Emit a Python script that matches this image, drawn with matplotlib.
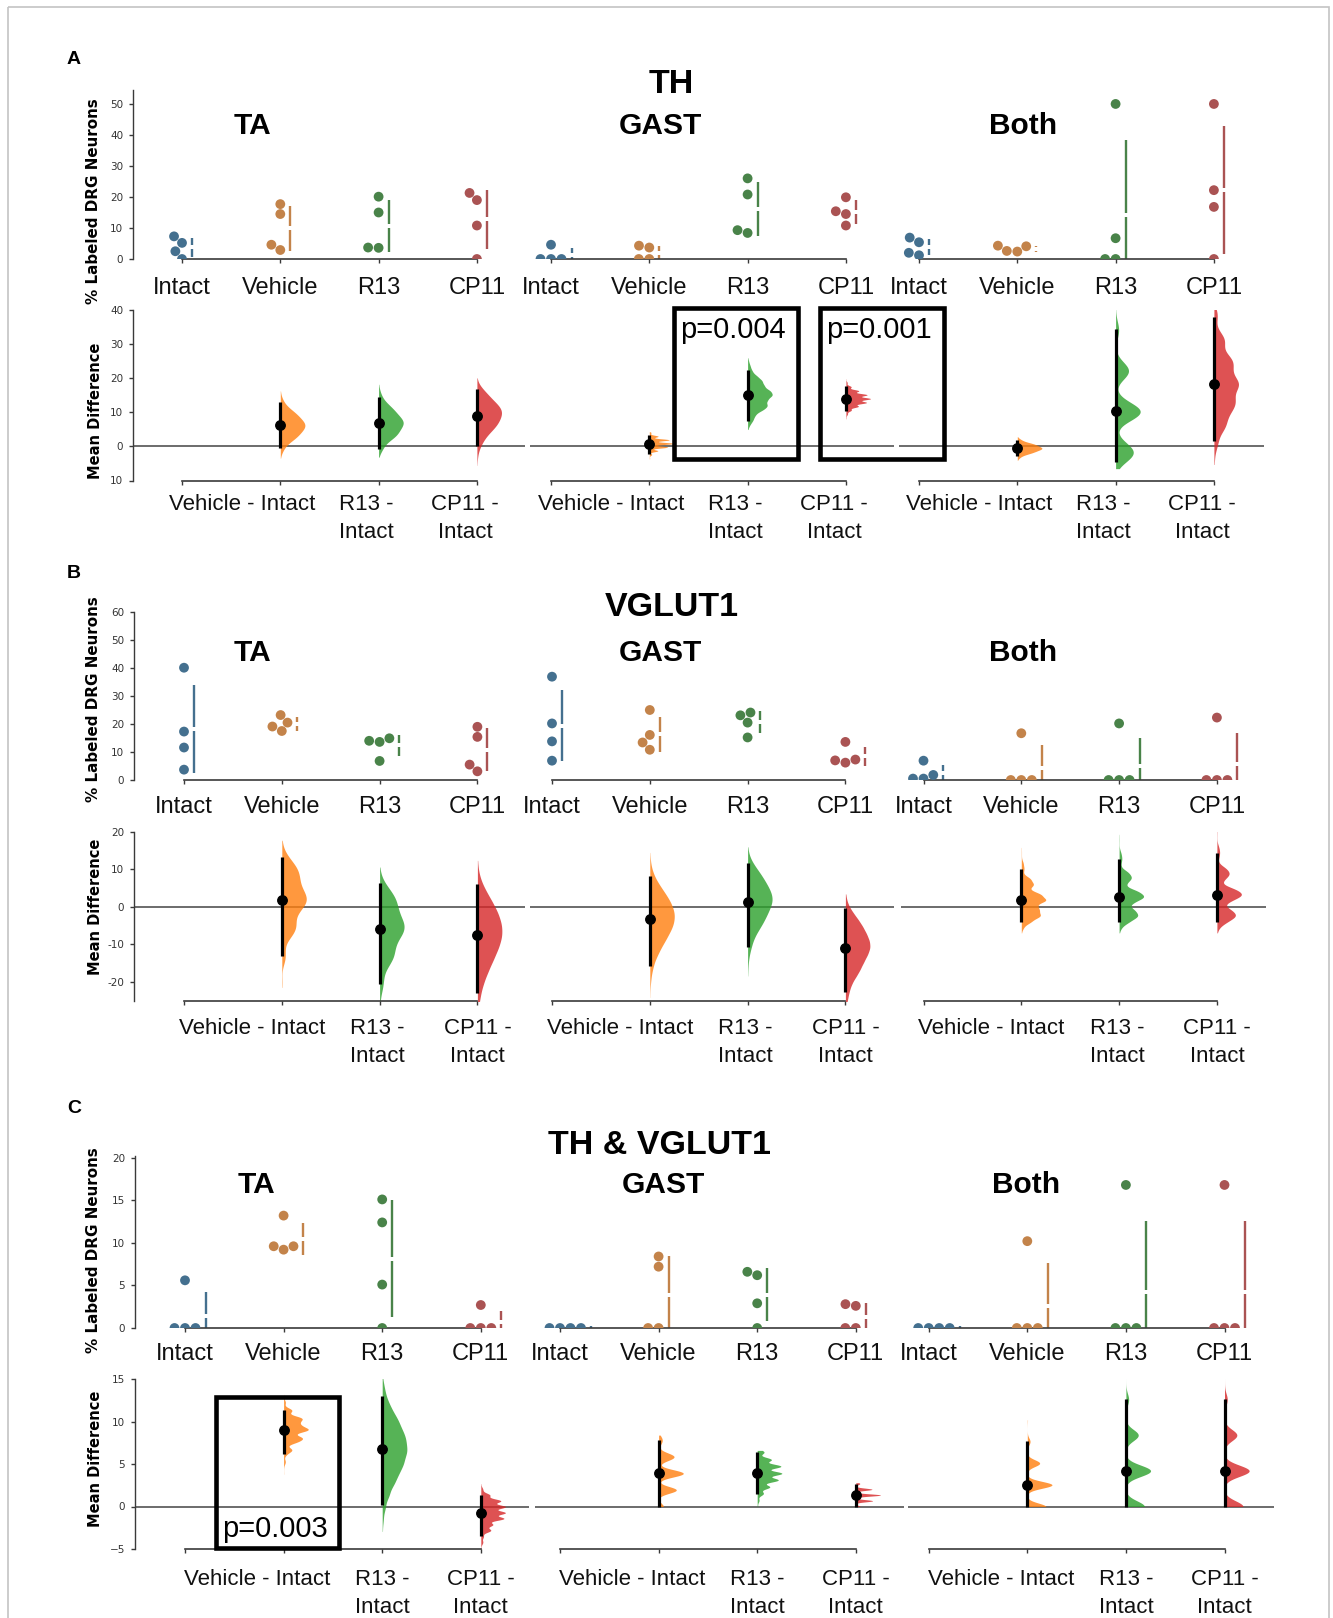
import itertools
import colorsys
import numpy as np
import matplotlib
matplotlib.use("Agg")
import matplotlib.pyplot as plt
import matplotlib.transforms as mtransforms
from matplotlib.patches import Rectangle
from matplotlib.colors import to_rgb

plt.rcParams["font.family"] = ["Liberation Sans", "DejaVu Sans"]

W, H, DPI = 1333, 1618, 100

# ---------------------------------------------------------------- data
groups = ["Intact", "Vehicle", "R13", "CP11"]
contrast_names = ["", "Vehicle - Intact", "R13 -\nIntact", "CP11 -\nIntact"]
muscles = ["TA", "GAST", "Both"]
markers = ["TH", "VGLUT1", "TH & VGLUT1"]
panel_letters = ["A", "B", "C"]

# % labeled DRG neurons; each list: [Intact, Vehicle, R13, CP11] (n = 4 each)
th_ta = [[7.3, 5.2, 2.5, 0.0], [17.7, 14.5, 4.6, 2.9], [20.1, 15.0, 3.7, 3.6], [21.3, 19.0, 10.8, 0.0]]
th_gast = [[4.6, 0.0, 0.0, 0.0], [4.3, 3.7, 0.0, 0.0], [26.0, 20.8, 9.3, 8.4], [19.9, 15.4, 14.5, 10.8]]
th_both = [[6.9, 5.4, 2.0, 1.2], [4.3, 2.6, 2.4, 4.1], [50.0, 6.7, 0.0, 0.0], [50.0, 22.2, 16.8, 0.0]]

vg_ta = [[40.1, 17.3, 11.6, 3.7], [23.2, 20.5, 19.1, 17.5], [14.9, 14.0, 13.6, 6.8], [19.0, 15.4, 5.5, 3.1]]
vg_gast = [[36.9, 20.2, 13.8, 6.9], [25.0, 16.1, 13.4, 10.8], [24.1, 23.1, 20.5, 15.2], [13.6, 7.3, 6.2, 7.0]]
vg_both = [[6.9, 1.8, 0.5, 0.5], [16.7, 0.0, 0.0, 0.0], [20.2, 0.0, 0.0, 0.0], [22.3, 0.0, 0.0, 0.0]]

co_ta = [[5.6, 0.0, 0.0, 0.0], [13.2, 9.6, 9.2, 9.6], [15.1, 12.4, 5.1, 0.0], [2.7, 0.0, 0.0, 0.0]]
co_gast = [[0.0, 0.0, 0.0, 0.0], [8.4, 7.2, 0.0, 0.0], [6.6, 6.2, 2.9, 0.0], [2.8, 2.6, 0.0, 0.0]]
co_both = [[0.0, 0.0, 0.0, 0.0], [10.2, 0.0, 0.0, 0.0], [16.8, 0.0, 0.0, 0.0], [16.8, 0.0, 0.0, 0.0]]

panel_data = [[th_ta, th_gast, th_both], [vg_ta, vg_gast, vg_both], [co_ta, co_gast, co_both]]

raw_yticks = [[0, 10, 20, 30, 40, 50], [0, 10, 20, 30, 40, 50, 60], [0, 5, 10, 15, 20]]
raw_ylims = [(0, 54.5), (0, 60), (0, 20.2)]
diff_yticks = [[-10, 0, 10, 20, 30, 40], [-20, -10, 0, 10, 20], [-5, 0, 5, 10, 15]]
diff_yticklabels = [["10", "0", "10", "20", "30", "40"],
                    ["-20", "-10", "0", "10", "20"],
                    ["\u22125", "0", "5", "10", "15"]]
diff_ylims = [(-10, 40), (-25, 20), (-5, 15)]
p_texts = ["p=0.004", "p=0.001", "p=0.003"]

# ---------------------------------------------------------------- layout (pixels)
LAYOUT = [
    dict(letter=(74, 64), title=(671, 93), sub_y=134, sub_x=[253, 660, 1023],
         raw=(90, 259), diff=(310, 480.5), lefts=[133, 530, 899], rights=[525, 894, 1264],
         pos0=[182, 551, 919], step=98.3, raw_lab=18, diff_lab=13,
         shifts=[0, -38, -12, -12], ylab_raw=201, ylab_diff=411),
    dict(letter=(74, 578), title=(672, 616), sub_y=661, sub_x=[253, 660, 1023],
         raw=(612, 780), diff=(832, 1000.7), lefts=[134, 530, 901], rights=[524.5, 894, 1266],
         pos0=[184, 552, 923.5], step=97.8, raw_lab=16, diff_lab=17,
         shifts=[0, -30, -2, 0], ylab_raw=699, ylab_diff=907),
    dict(letter=(74, 1113), title=(659, 1154), sub_y=1193, sub_x=[256, 663, 1026],
         raw=(1156, 1328), diff=(1379, 1549), lefts=[135, 535, 908], rights=[529, 904, 1274],
         pos0=[185, 560, 928.7], step=98.6, raw_lab=14.5, diff_lab=20,
         shifts=[0, -26, 0, 0], ylab_raw=1250, ylab_diff=1459),
]
P_BOXES = [((674, 307.5, 797.5, 458.5), (680, 338)),
           ((820, 307.5, 943.5, 458.5), (826, 338)),
           ((215.5, 1396.5, 339, 1547.5), (222, 1537))]

DOT_D = 10.0         # px
DOT_S = (9.8 * 72 / DPI) ** 2
GAP_PX = 4.0
SPINE_C = "#3a3a3a"

base_cols = [to_rgb(c) for c in ["tab:blue", "tab:orange", "tab:green", "tab:red"]]


def desat(rgb, prop):
    h, l, s = colorsys.rgb_to_hls(*rgb)
    return colorsys.hls_to_rgb(h, l, s * prop)


swarm_cols = [desat(c, 0.5) for c in base_cols]

fig = plt.figure(figsize=(W / DPI, H / DPI), dpi=DPI)
fig.patch.set_facecolor("white")


def px_axes(left, top, right, bottom):
    return fig.add_axes([left / W, 1 - bottom / H, (right - left) / W, (bottom - top) / H])


def beeswarm_px(y_px, d):
    order = np.argsort(y_px, kind="stable")
    placed = []
    out = np.zeros(len(y_px))
    for i in order:
        yi = y_px[i]
        cands = [0.0]
        left_first = True
        for (xj, yj) in reversed(placed):
            dy = yi - yj
            if abs(dy) < d:
                dx = np.sqrt(max(d * d - dy * dy, 0.0)) * 1.05
                pair = [xj - dx, xj + dx] if left_first else [xj + dx, xj - dx]
                cands.extend(pair)
                left_first = not left_first
        cands.sort(key=abs)
        chosen = cands[-1]
        for c in cands:
            if all((c - xj) ** 2 + (yi - yj) ** 2 >= (d * 0.98) ** 2 for xj, yj in placed):
                chosen = c
                break
        placed.append((chosen, yi))
        out[i] = chosen
    return out


def boot_means(vals):
    v = np.asarray(vals, float)
    n = len(v)
    idx = np.array(list(itertools.product(range(n), repeat=n)))
    return v[idx].mean(axis=1)


def wquantile(vals, w, qs):
    cw = np.cumsum(w)
    cw = cw / cw[-1]
    return [vals[min(np.searchsorted(cw, q), len(vals) - 1)] for q in qs]


def style_common(ax, show_y):
    for s in ["top", "right"]:
        ax.spines[s].set_visible(False)
    ax.spines["bottom"].set_bounds(0, 3)
    ax.spines["bottom"].set_color(SPINE_C)
    ax.spines["bottom"].set_linewidth(1.2)
    ax.set_xticks([0, 1, 2, 3])
    ax.set_xticklabels([])
    ax.tick_params(axis="x", length=3, width=1, color=SPINE_C)
    ax.patch.set_alpha(0)
    if show_y:
        ax.spines["left"].set_color(SPINE_C)
        ax.spines["left"].set_linewidth(1.0)
        ax.tick_params(axis="y", length=3, width=1, color=SPINE_C, pad=4,
                       labelsize=7.5, labelcolor="#333333")
        for lab in ax.get_yticklabels():
            lab.set_fontfamily("DejaVu Sans")
    else:
        ax.spines["left"].set_visible(False)
        ax.tick_params(axis="y", left=False, labelleft=False)


def add_xlabels(ax, labels, down_px, shifts, fs, ls=1.25):
    for i, lab in enumerate(labels):
        if not lab:
            continue
        tr = mtransforms.blended_transform_factory(ax.transData, ax.transAxes) + \
            mtransforms.ScaledTranslation(shifts[i] / DPI, -down_px / DPI, fig.dpi_scale_trans)
        ax.text(i, 0, lab, transform=tr, ha="center", va="top", fontsize=fs,
                linespacing=ls, clip_on=False, color="#111111")


for pi, L in enumerate(LAYOUT):
    rt, rb = L["raw"]
    dt, db = L["diff"]
    for mi in range(3):
        data = panel_data[pi][mi]
        left, right, p0, step = L["lefts"][mi], L["rights"][mi], L["pos0"][mi], L["step"]
        xlim = ((left - p0) / step, (right - p0) / step)

        # ---------------- raw data (swarm + gapped mean +/- sd)
        ax = px_axes(left, rt, right, rb)
        ax.set_xlim(*xlim)
        ylo, yhi = raw_ylims[pi]
        ax.set_ylim(ylo, yhi)
        ppy = (rb - rt) / (yhi - ylo)
        for gi, vals in enumerate(data):
            v = np.asarray(vals, float)
            offs = beeswarm_px(v * ppy, DOT_D)
            ax.scatter(gi + offs / step, v, s=DOT_S, color=swarm_cols[gi],
                       edgecolor="none", zorder=3)
            m, sd = v.mean(), v.std(ddof=1)
            lx = gi + (max(offs.max(), 0.0) + 10.0) / step
            g = GAP_PX / ppy / 2
            ax.plot([lx, lx], [m - sd, m - g], color=swarm_cols[gi], lw=1.7,
                    solid_capstyle="butt", zorder=2)
            ax.plot([lx, lx], [m + g, m + sd], color=swarm_cols[gi], lw=1.7,
                    solid_capstyle="butt", zorder=2)
        if mi == 0:
            ax.set_yticks(raw_yticks[pi])
        style_common(ax, mi == 0)
        add_xlabels(ax, groups, L["raw_lab"], [0, 0, 0, 0], 17)

        # ---------------- contrast (bootstrap mean difference)
        axd = px_axes(left, dt, right, db)
        axd.set_xlim(*xlim)
        dlo, dhi = diff_ylims[pi]
        axd.set_ylim(dlo, dhi)
        axd.axhline(0, color="#444444", lw=1.1, zorder=1)
        ctrl_b = boot_means(data[0])
        ctrl_m = np.mean(data[0])
        for gi in range(1, 4):
            test_b = boot_means(data[gi])
            diffs = (test_b[:, None] - ctrl_b[None, :]).ravel()
            vals, counts = np.unique(np.round(diffs, 8), return_counts=True)
            w = counts / counts.sum()
            est = np.mean(data[gi]) - ctrl_m
            ci_lo, ci_hi = wquantile(vals, w, [0.025, 0.975])
            lo, hi = wquantile(vals, w, [0.0004, 0.9996])
            mu = np.sum(vals * w)
            sdv = np.sqrt(np.sum(w * (vals - mu) ** 2))
            bw = sdv * 5000 ** (-0.2)
            if bw > 0 and hi > lo:
                grid = np.linspace(lo, hi, 300)
                dens = (w[None, :] * np.exp(-0.5 * ((grid[:, None] - vals[None, :]) / bw) ** 2)).sum(1)
                dens = dens / dens.max() * 0.25
                axd.fill_betweenx(grid, gi, gi + dens, color=base_cols[gi], alpha=0.8,
                                  lw=0, zorder=2)
            axd.plot([gi, gi], [ci_lo, ci_hi], color="black", lw=2.3, zorder=3,
                     solid_capstyle="butt")
            axd.plot([gi], [est], "o", color="black", ms=6.8, zorder=4)
        if mi == 0:
            axd.set_yticks(diff_yticks[pi])
            axd.set_yticklabels(diff_yticklabels[pi])
        style_common(axd, mi == 0)
        add_xlabels(axd, contrast_names, L["diff_lab"], L["shifts"], 16, ls=1.45)

# ---------------------------------------------------------------- overlay text / boxes
ov = fig.add_axes([0, 0, 1, 1])
ov.set_xlim(0, W)
ov.set_ylim(H, 0)
ov.axis("off")
ov.set_zorder(20)

ov.add_patch(Rectangle((8, 7), W - 4 - 8, H + 50, fill=False, edgecolor="#c4c4c4", lw=1.2))

for pi, L in enumerate(LAYOUT):
    ov.text(*L["letter"], panel_letters[pi], ha="center", va="baseline",
            fontsize=14, fontweight="bold")
    ov.text(*L["title"], markers[pi], ha="center", va="baseline",
            fontsize=24.5, fontweight="bold")
    for mi in range(3):
        ov.text(L["sub_x"][mi], L["sub_y"], muscles[mi], ha="center", va="baseline",
                fontsize=21.5, fontweight="bold")
    ov.text(94, L["ylab_raw"], "% Labeled DRG Neurons", rotation=90, ha="center",
            va="center", fontsize=10.9, fontweight="bold", family="DejaVu Sans")
    ov.text(96, L["ylab_diff"], "Mean Difference", rotation=90, ha="center",
            va="center", fontsize=10.5, fontweight="bold", family="DejaVu Sans")

for (x0, y0, x1, y1), (tx, ty), pt in zip([b[0] for b in P_BOXES], [b[1] for b in P_BOXES], p_texts):
    ov.add_patch(Rectangle((x0, y0), x1 - x0, y1 - y0, fill=False, edgecolor="black",
                           lw=3.3, joinstyle="miter"))
    ov.text(tx, ty, pt, ha="left", va="baseline", fontsize=21)

fig.savefig("out.png", dpi=DPI, facecolor="white")
